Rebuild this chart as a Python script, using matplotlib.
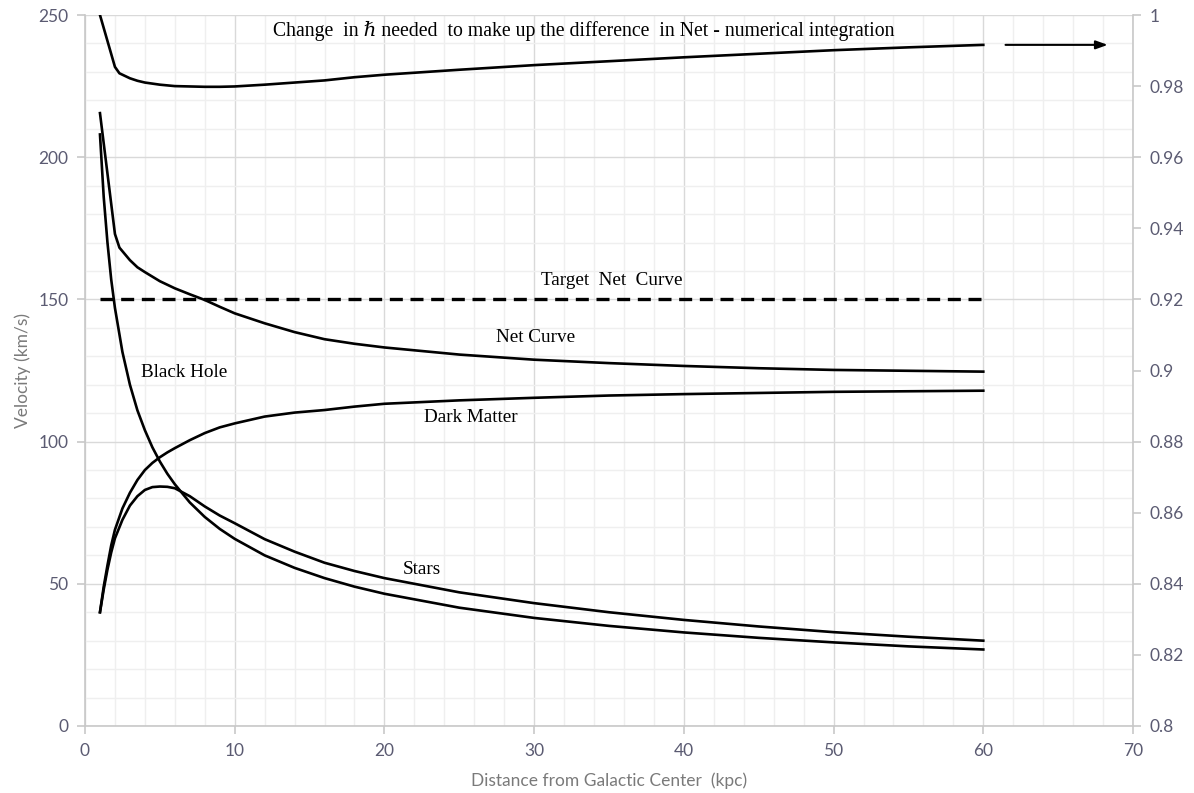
import matplotlib
matplotlib.use("Agg")
import matplotlib.pyplot as plt
from matplotlib.ticker import MultipleLocator, FixedLocator

# ---------------- data ----------------
r_comp = [1, 1.25, 1.5, 1.75, 2, 2.5, 3, 3.5, 4, 4.5, 5, 5.5, 6, 7, 8, 9, 10, 12, 14, 16, 18,
          20, 25, 30, 35, 40, 45, 50, 55, 60]
black_hole = [208, 186, 170, 157, 147, 131.5, 120, 111, 104, 98, 93, 88.7, 85, 78.6, 73.5,
              69.3, 65.8, 60, 55.6, 52, 49, 46.5, 41.6, 38, 35.2, 32.9, 31, 29.4, 28, 26.9]
stars = [40, 48, 55, 61, 66, 72.5, 77.5, 80.8, 83, 84, 84.2, 84.1, 83.6, 80.8, 77.2, 74, 71.3,
         65.7, 61.3, 57.4, 54.5, 52, 47, 43.2, 40, 37.3, 35, 33, 31.4, 30]
dark_matter = [40, 49, 56.5, 63.5, 69, 76.5, 82, 86.5, 90, 92.5, 94.5, 96.2, 97.7, 100.5, 103,
               105, 106.4, 108.8, 110.2, 111.1, 112.3, 113.3, 114.5, 115.4, 116.2, 116.7,
               117.1, 117.5, 117.7, 117.9]

r_net = [1, 2, 2.3, 3, 3.5, 4, 5, 6, 7, 8, 9, 10, 12, 14, 16, 18, 20, 25, 30, 35, 40, 45, 50,
         55, 60]
net_curve = [215.5, 173, 168.2, 163.8, 161.3, 159.6, 156.4, 153.9, 151.8, 149.8, 147.4, 145.1,
             141.6, 138.5, 136, 134.4, 133.1, 130.6, 128.8, 127.6, 126.6, 125.8, 125.2, 124.9,
             124.6]
hbar_change = [1.0, 0.9854, 0.9836, 0.9822, 0.9815, 0.981, 0.9804, 0.98, 0.9799, 0.9798,
               0.9798, 0.9799, 0.9804, 0.981, 0.9816, 0.9825, 0.9832, 0.9846, 0.9859, 0.987,
               0.9881, 0.9891, 0.9901, 0.9909, 0.9916]

r_target = [1, 60]
target_net = [150, 150]

x_ticks = [0, 10, 20, 30, 40, 50, 60, 70]
left_ticks = [0, 50, 100, 150, 200, 250]
right_ticks = [0.8, 0.82, 0.84, 0.86, 0.88, 0.9, 0.92, 0.94, 0.96, 0.98, 1.0]
right_labels = ["0.8", "0.82", "0.84", "0.86", "0.88", "0.9", "0.92", "0.94", "0.96", "0.98", "1"]

# ---------------- style ----------------
tick_col = "#5b5b72"
spine_col = "#c8c8c8"
serif = ["Liberation Serif", "DejaVu Serif"]
sans = ["Lato", "DejaVu Sans"]

fig = plt.figure(figsize=(11.94, 7.93), dpi=100)
ax = fig.add_axes([85 / 1194, 1 - 726 / 793, (1133 - 85) / 1194, (726 - 15) / 793])
ax2 = ax.twinx()

ax.set_xlim(0, 70)
ax.set_ylim(0, 250)
ax2.set_ylim(0.8, 1.0)

ax.xaxis.set_major_locator(FixedLocator(x_ticks))
ax.xaxis.set_minor_locator(MultipleLocator(2))
ax.yaxis.set_major_locator(FixedLocator(left_ticks))
ax.yaxis.set_minor_locator(MultipleLocator(10))
ax2.yaxis.set_major_locator(FixedLocator(right_ticks))
ax2.set_yticklabels(right_labels)

ax.grid(which="major", color="#d9d9d9", linewidth=1.0)
ax.grid(which="minor", color="#efefef", linewidth=1.0)
ax.set_axisbelow(True)

for a in (ax, ax2):
    for s in a.spines.values():
        s.set_visible(False)
ax.spines["left"].set_visible(True)
ax.spines["bottom"].set_visible(True)
ax2.spines["right"].set_visible(True)
for s in (ax.spines["left"], ax.spines["bottom"], ax2.spines["right"]):
    s.set_color(spine_col)
    s.set_linewidth(1.2)

ax.tick_params(which="major", direction="out", length=6, color=spine_col, width=1.2,
               labelcolor=tick_col, labelsize=12.5, pad=6)
ax.tick_params(which="minor", length=0)
ax2.tick_params(which="major", direction="out", length=6, color=spine_col, width=1.2,
                labelcolor=tick_col, labelsize=12.5, pad=6)
for lab in ax.get_xticklabels() + ax.get_yticklabels() + ax2.get_yticklabels():
    lab.set_family(sans)

ax.set_xlabel("Distance from Galactic Center  (kpc)", color="#7a7a7a", fontsize=12.5,
              family=sans, labelpad=10)
ax.set_ylabel("Velocity (km/s)", color="#7a7a7a", fontsize=12.5, family=sans, labelpad=5)

# ---------------- curves ----------------
lw = 1.9
ax.plot(r_comp, black_hole, color="black", lw=lw)
ax.plot(r_comp, stars, color="black", lw=lw)
ax.plot(r_comp, dark_matter, color="black", lw=lw)
ax.plot(r_net, net_curve, color="black", lw=lw)
ax.plot(r_target, target_net, color="black", lw=2.4, dashes=(3.9, 2.3))
ax2.plot(r_net, hbar_change, color="black", lw=lw)

# ---------------- annotations ----------------
tfs = 13.8
ax.text(33.3, 244.5, "Change  in \u210f needed  to make up the difference  in Net - numerical integration",
        ha="center", va="center", fontsize=14.2, family=serif)
ax.text(35.2, 156.8, "Target  Net  Curve", ha="center", va="center", fontsize=tfs, family=serif)
ax.text(30.1, 136.6, "Net Curve", ha="center", va="center", fontsize=tfs, family=serif)
ax.text(6.6, 124.4, "Black Hole", ha="center", va="center", fontsize=tfs, family=serif)
ax.text(25.8, 108.3, "Dark Matter", ha="center", va="center", fontsize=tfs, family=serif)
ax.text(22.5, 54.9, "Stars", ha="center", va="center", fontsize=tfs, family=serif)

ax2.annotate("", xy=(68.5, 0.9916), xytext=(61.3, 0.9916),
             arrowprops=dict(arrowstyle="-|>,head_length=0.7,head_width=0.25", color="black", lw=1.5))

fig.savefig("out.png", dpi=100)
